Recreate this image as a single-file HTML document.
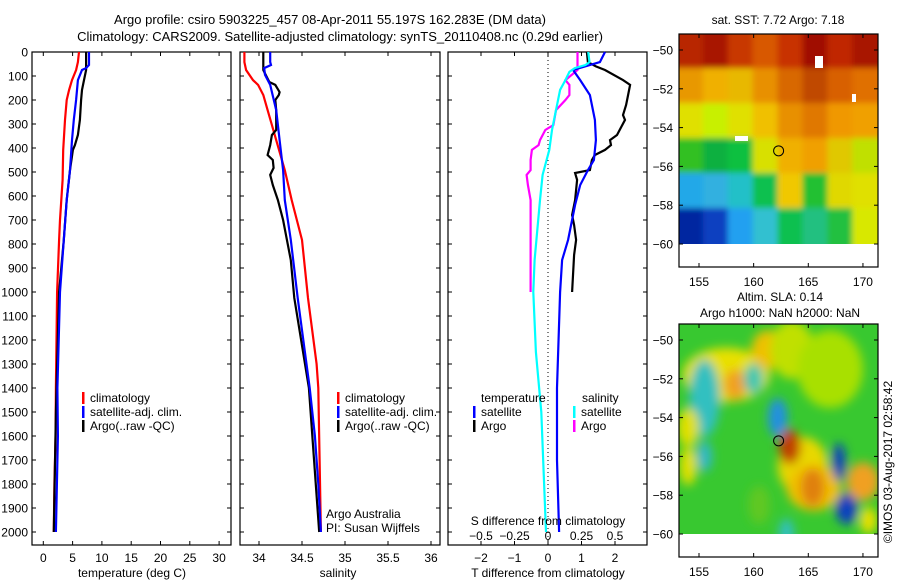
<!DOCTYPE html>
<html><head><meta charset="utf-8">
<style>
html,body{margin:0;padding:0;background:#fff;}
svg{display:block;font-family:"Liberation Sans",sans-serif;}
</style></head>
<body>
<svg id="chart" width="900" height="580" viewBox="0 0 900 580" xmlns="http://www.w3.org/2000/svg">
<defs>
<filter id="blur1" x="-10%" y="-10%" width="120%" height="120%"><feGaussianBlur stdDeviation="3"/></filter>
<filter id="blur2" x="-20%" y="-20%" width="140%" height="140%"><feGaussianBlur stdDeviation="5"/></filter>
<clipPath id="clipM1"><rect x="679" y="34" width="199" height="210"/></clipPath>
<clipPath id="clipM2"><rect x="679" y="324" width="199" height="210"/></clipPath>
</defs>
<text x="330" y="24" font-size="13" text-anchor="middle">Argo profile: csiro 5903225_457 08-Apr-2011 55.197S 162.283E (DM data)</text>
<text x="340" y="41" font-size="13" text-anchor="middle">Climatology: CARS2009. Satellite-adjusted climatology: synTS_20110408.nc (0.29d earlier)</text>
<g id="g"></g>
</svg>
<script>
// ---- data (depth in m) ----
const tClimDepth = [0,42,75,117,158,200,283,408,533,700,783,1000,1400,1600,1800,2000];
const tClimVal   = [6.1,5.9,5.6,4.9,4.4,4.0,3.7,3.4,3.3,2.85,2.7,2.35,2.15,2.1,1.9,1.8];
const tSatDepth  = [0,54,67,75,117,200,283,367,492,617,783,1000,1400,1600,2000];
const tSatVal    = [7.8,7.8,7.3,6.6,5.9,5.6,5.2,4.9,4.55,4.0,3.5,2.85,2.4,2.5,2.15];
const tArgoDepth = [0,75,117,158,200,283,346,388,408,492,617,783,1000,1500,2000];
const tArgoVal   = [7.3,7.3,6.95,6.6,6.45,6.25,5.9,5.4,5.05,4.55,4.0,3.5,2.7,2.15,1.8];

const sClimDepth = [0,42,75,117,137,179,242,304,367,492,617,783,1025,1300,1400,2000];
const sClimVal   = [33.83,33.83,33.85,33.93,33.99,34.05,34.10,34.15,34.20,34.30,34.38,34.50,34.57,34.67,34.69,34.72];
const sSatDepth  = [0,42,54,67,95,137,242,367,492,617,783,1025,1400,1600,1800,2000];
const sSatVal    = [34.13,34.13,34.14,34.06,34.07,34.13,34.20,34.24,34.28,34.30,34.37,34.45,34.59,34.65,34.69,34.72];
const sArgoDepth = [0,75,83,125,137,167,179,200,242,325,346,388,429,450,483,512,554,617,700,867,1025,1400,2000];
const sArgoVal   = [34.05,34.05,34.06,34.12,34.19,34.24,34.23,34.19,34.20,34.20,34.15,34.13,34.10,34.16,34.17,34.13,34.16,34.22,34.28,34.37,34.41,34.58,34.70];

const dTSatDepth = [0,42,75,117,179,283,367,450,492,554,637,783,867,1000,1400,1700,2000];
const dTSatVal   = [1.70,1.55,0.75,0.96,1.25,1.40,1.43,1.37,1.19,0.96,0.81,0.60,0.42,0.36,0.27,0.27,0.33];
const dTArgoDepth = [0,42,60,75,117,137,179,221,263,283,346,367,388,408,429,450,492,504,533,575,617,679,721,783,846,1000];
const dTArgoVal   = [1.16,1.19,1.43,1.70,2.24,2.45,2.39,2.33,2.24,2.30,2.06,1.85,1.88,1.70,1.40,1.31,1.25,0.81,0.87,0.84,0.81,0.72,0.78,0.84,0.78,0.72];
const dSArgoDepth = [0,75,117,137,179,200,242,304,325,367,388,408,450,492,512,554,617,867,1000];
const dSArgoVal   = [0.22,0.22,0.13,0.16,0.16,0.13,0.06,0.04,-0.02,-0.06,-0.07,-0.12,-0.13,-0.13,-0.16,-0.15,-0.13,-0.13,-0.13];
const dSSatDepth = [0,42,54,67,83,117,158,242,325,408,512,617,867,1000,1250,1500,2000];
const dSSatVal   = [0.30,0.31,0.28,0.20,0.16,0.13,0.09,0.06,0.03,0.01,-0.04,-0.06,-0.10,-0.11,-0.09,-0.05,-0.015];

const depthTicks = [0,100,200,300,400,500,600,700,800,900,1000,1100,1200,1300,1400,1500,1600,1700,1800,1900,2000];
const tempTicks = [0,5,10,15,20,25,30];
const salTicks = [34,34.5,35,35.5,36];
const salTickLabels = ["34","34.5","35","35.5","36"];
const dTTicks = [-2,-1,0,1,2];
const dSTicks = [-0.5,-0.25,0,0.25,0.5];
const dSTickLabels = ["\u22120.5","\u22120.25","0","0.25","0.5"];
const latTicks = [-50,-52,-54,-56,-58,-60];
const lonTicks = [155,160,165,170];

// ---- scales ----
const Y = d => 52 + 0.24*d;
const XT = t => 43.3 + 5.86*t;
const XS = s => 259 + 86*(s-34);
const XdT = t => 548 + 33.5*t;
const XdS = s => 548 + 134*s;
const LX = lon => 699 + (lon-155)*10.93;
const LY = (lat,off) => 50 + off + (-50-lat)*19.4;

const NS="http://www.w3.org/2000/svg";
const G=document.getElementById('g');
function el(tag,attrs,parent){const e=document.createElementNS(NS,tag);for(const k in attrs)e.setAttribute(k,attrs[k]);(parent||G).appendChild(e);return e;}
function txt(x,y,s,size,anchor,parent){const t=el('text',{x:x,y:y,'font-size':size,'text-anchor':anchor||'start'},parent);t.textContent=s;return t;}

function line(depths,vals,xf,color,name){
  const pts=depths.map((d,i)=>xf(vals[i]).toFixed(1)+','+Y(d).toFixed(1)).join(' ');
  const p=el('polyline',{points:pts,fill:'none',stroke:color,'stroke-width':2.2});
  
  
}

function panel(x0,x1,name){
  const r=el('rect',{x:x0,y:52,width:x1-x0,height:493,fill:'none',stroke:'#000','stroke-width':1.2});
  
  
  depthTicks.forEach(d=>{
    el('line',{x1:x0,x2:x0+4,y1:Y(d),y2:Y(d),stroke:'#000'});
    el('line',{x1:x1-4,x2:x1,y1:Y(d),y2:Y(d),stroke:'#000'});
  });
}
function xticks(vals,xf,labels,size,top){
  vals.forEach((v,i)=>{
    const x=xf(v);
    el('line',{x1:x,x2:x,y1:545,y2:541,stroke:'#000'});
    if(top) el('line',{x1:x,x2:x,y1:52,y2:56,stroke:'#000'});
    const t=txt(x,562,labels[i],size,'middle');
    
    
  });
}

// panel 1 temperature
panel(32,231,'temperature-panel');
depthTicks.forEach(d=>{
  const t=txt(28,Y(d)+4.5,String(d),12,'end');
  
  
});
xticks(tempTicks,XT,tempTicks.map(String),12,true);
line(tClimDepth,tClimVal,XT,'#ff0000','temp-climatology-line');
line(tArgoDepth,tArgoVal,XT,'#000000','temp-argo-line');
line(tSatDepth,tSatVal,XT,'#0000ff','temp-satellite-line');
txt(132,577,'temperature (deg C)',12,'middle');

// panel 2 salinity
panel(240,440,'salinity-panel');
xticks(salTicks,XS,salTickLabels,12,true);
line(sClimDepth,sClimVal,XS,'#ff0000','sal-climatology-line');
line(sArgoDepth,sArgoVal,XS,'#000000','sal-argo-line');
line(sSatDepth,sSatVal,XS,'#0000ff','sal-satellite-line');
txt(338,577,'salinity',12,'middle');
txt(326,518,'Argo Australia',12,'start');
txt(326,532,'PI: Susan Wijffels',12,'start');

// panel 3 differences
panel(448,647,'difference-panel');
el('line',{x1:548,x2:548,y1:52,y2:545,stroke:'#000','stroke-dasharray':'1,3'});
dTTicks.forEach(v=>{const x=XdT(v);el('line',{x1:x,x2:x,y1:545,y2:541,stroke:'#000'});el('line',{x1:x,x2:x,y1:52,y2:56,stroke:'#000'});
  const t=txt(x,562,v<0?'\u2212'+Math.abs(v):String(v),12,'middle');});
dSTicks.forEach((v,i)=>{const t=txt(XdS(v),540,dSTickLabels[i],12,'middle');});
line(dSArgoDepth,dSArgoVal,XdS,'#ff00ff','sdiff-argo-line');
line(dTArgoDepth,dTArgoVal,XdT,'#000000','tdiff-argo-line');
line(dTSatDepth,dTSatVal,XdT,'#0000ff','tdiff-satellite-line');
line(dSSatDepth,dSSatVal,XdS,'#00ffff','sdiff-satellite-line');
txt(548,525,'S difference from climatology',12,'middle');
txt(548,577,'T difference from climatology',12,'middle');

// legends
function legend(x,y,items,name){
  const g=el('g',{});
  
  
  items.forEach((it,i)=>{
    const yy=y+i*14;
    el('rect',{x:x,y:yy-10,width:2.5,height:12,fill:it[0]},g);
    if(it[1]) txt(x+8,yy,it[1],12,'start',g);
  });
}
legend(82,402,[['#ff0000','climatology'],['#0000ff','satellite-adj. clim.'],['#000000','Argo(..raw -QC)']],'temperature-legend');
legend(337,402,[['#ff0000','climatology'],['#0000ff','satellite-adj. clim.'],['#000000','Argo(..raw -QC)']],'salinity-legend');
txt(481,402,'temperature',12,'start');
txt(582,402,'salinity',12,'start');
legend(473,416,[['#0000ff','satellite'],['#000000','Argo']],'tdiff-legend');
legend(573,416,[['#00ffff','satellite'],['#ff00ff','Argo']],'sdiff-legend');

// ---- maps ----
const sstColors = [
 ["#b82800","#a81800","#c83800","#d85800","#c83000","#a01000","#c02800","#a81800"],
 ["#e89800","#f0b000","#e8b800","#e89000","#d86800","#c04800","#d86000","#e07000"],
 ["#e0e000","#c8f000","#e0e000","#f0c000","#e89000","#e07800","#f09800","#f0a000"],
 ["#30c020","#10b040","#10c040","#d8e000","#f0b000","#f0a000","#e0c800","#c0e000"],
 ["#20a8e8","#30b0e0","#20c0c8","#10c050","#f0c800","#20c030","#e0d800","#e0e000"],
 ["#0028a0","#1040c0","#20a0f0","#30c0d0","#10c050","#20c080","#20c040","#d8e800"]
];
function map(off,name,title1,title2,fill){
  const g=el('g',{});
  
  
  const cg=el('g',{'clip-path':'url(#clipM'+(off?2:1)+')'},g);
  fill(cg,off);
  el('rect',{x:679,y:34+off,width:199,height:233,fill:'none',stroke:'#000','stroke-width':1.2},g);
  latTicks.forEach(l=>{const y=LY(l,off);el('line',{x1:679,x2:683,y1:y,y2:y,stroke:'#000'},g);el('line',{x1:874,x2:878,y1:y,y2:y,stroke:'#000'},g);
    txt(673,y+4.5,'\u2212'+Math.abs(l),12,'end',g);});
  lonTicks.forEach(l=>{const x=LX(l);el('line',{x1:x,x2:x,y1:267+off,y2:263+off,stroke:'#000'},g);el('line',{x1:x,x2:x,y1:34+off,y2:38+off,stroke:'#000'},g);
    txt(x,286+off,String(l),12,'middle',g);});
  el('circle',{cx:LX(162.283),cy:LY(-55.197,off),r:5,fill:'none',stroke:'#000','stroke-width':1},g);
  if(title2){txt(780,301,title1,12,'middle',g);txt(780,317,title2,12,'middle',g);}
  else txt(778,24,title1,12,'middle',g);
}
map(0,'sst-map','sat. SST: 7.72 Argo: 7.18',null,(cg,off)=>{
  const bg=el('g',{filter:'url(#blur1)'},cg);
  const cw=199/8, rh=210/6;
  sstColors.forEach((row,r)=>row.forEach((c,k)=>{
    const x0=679+k*cw-(k===0?20:1), x1=679+(k+1)*cw+(k===7?20:1);
    const y0=34+r*rh-(r===0?20:1), y1=34+(r+1)*rh+(r===5?20:1);
    el('rect',{x:x0,y:y0,width:x1-x0,height:y1-y0,fill:c},bg);}));
  el('rect',{x:815,y:56,width:8,height:12,fill:'#fff'},cg);
  el('rect',{x:852,y:94,width:4,height:8,fill:'#fff'},cg);
  el('rect',{x:735,y:136,width:13,height:5,fill:'#fff'},cg);
});
map(290,'sla-map','Altim. SLA: 0.14','Argo h1000: NaN h2000: NaN',(cg,off)=>{
  el('rect',{x:679,y:324,width:199,height:210,fill:'#38c830'},cg);
  const bg=el('g',{filter:'url(#blur2)'},cg);
  const blobs=[
   [157.5,-51.8,4,1.4,'#e8e000'],[158.3,-52.3,1,0.8,'#f0a020'],[161.3,-50.5,1.5,1,'#f0c000'],[163.5,-50.5,2,1.5,'#c0e000'],
   [155.5,-53,1.4,2,'#30c0c0'],[160,-52,0.9,0.8,'#40c8b0'],[162.2,-54,0.9,1,'#2090e0'],
   [154,-54.5,1,1,'#e0e000'],[154,-56.5,0.8,1,'#e0e000'],[155.5,-56,0.7,0.8,'#30b8c8'],
   [164.5,-56.5,2.3,1.5,'#e8d800'],[165.5,-57.6,2.5,1.2,'#f0c000'],[163.3,-55.5,1,0.9,'#c04000'],[165.4,-57.6,1.1,1,'#e08010'],
   [167.8,-56.3,0.6,1,'#1040c0'],[168.5,-58.7,1,0.8,'#1040c0'],[170,-57.3,1.5,1,'#f0a020'],[170.5,-59.3,0.8,0.7,'#e8e000'],
   [167,-51.5,3,2,'#a8e000'],[163,-60,0.7,0.8,'#30c0c0'],[160.5,-58.5,1,1,'#60c820']
  ];
  blobs.forEach(b=>el('ellipse',{cx:LX(b[0]),cy:LY(b[1],off),rx:b[2]*10.93,ry:b[3]*19.4,fill:b[4]},bg));
});
const c=txt(0,0,'\u00a9IMOS 03-Aug-2017 02:58:42',12,'middle');
c.setAttribute('transform','translate(892,462) rotate(-90)');


</script>
</body></html>
